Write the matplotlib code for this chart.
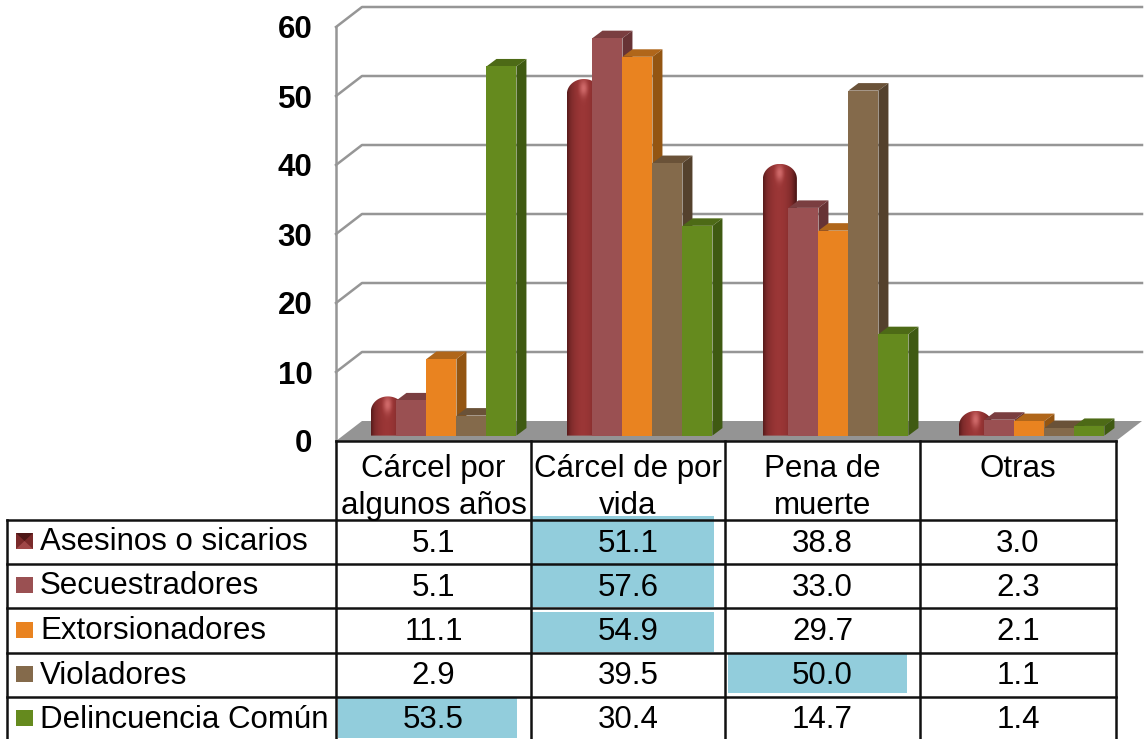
import matplotlib
matplotlib.use('Agg')
import matplotlib.pyplot as plt
import numpy as np
from matplotlib.colors import LinearSegmentedColormap
from matplotlib.patches import Polygon

plt.rcParams['font.family'] = ['Liberation Sans', 'DejaVu Sans']

categories = ['Cárcel por\nalgunos años', 'Cárcel de por\nvida', 'Pena de\nmuerte', 'Otras']
series_names = ['Asesinos o sicarios', 'Secuestradores', 'Extorsionadores', 'Violadores', 'Delincuencia Común']
asesinos = [5.1, 51.1, 38.8, 3.0]
secuestradores = [5.1, 57.6, 33.0, 2.3]
extorsionadores = [11.1, 54.9, 29.7, 2.1]
violadores = [2.9, 39.5, 50.0, 1.1]
delincuencia = [53.5, 30.4, 14.7, 1.4]
y_ticks = [0, 10, 20, 30, 40, 50, 60]

W, H = 1147, 739
PX_X = 195.0   # pixels per category
PX_Y = 6.9     # pixels per unit
WALL_DX = 26 / PX_X
WALL_DY = 20 / PX_Y
BAR_DX = 10 / PX_X
BAR_DY = 7.5 / PX_Y
BAR_LIFT = 5.4 / PX_Y
BAR_W = 30 / PX_X
GROUP_STEP = 196 / PX_X

# front, top, side
colors = [None,
          ('#9a5052', '#7a3e40', '#673335'),
          ('#e98320', '#b0661a', '#935512'),
          ('#846a4b', '#6a5238', '#54412d'),
          ('#658a1e', '#4d6a16', '#3f5a12')]
BLUE = '#92cddc'
GRID = '#969696'

fig = plt.figure(figsize=(W / 100, H / 100), dpi=100)
ax = fig.add_axes([336 / W, (H - 441) / H, 780 / W, 414 / H])
ax.set_xlim(0, 4)
ax.set_ylim(0, 60)
ax.patch.set_visible(False)
for s in ['top', 'right', 'bottom']:
    ax.spines[s].set_visible(False)
ax.spines['left'].set_color(GRID)
ax.spines['left'].set_linewidth(1.8)
ax.set_xticks([])
ax.set_yticks(y_ticks)
ax.tick_params(axis='y', length=0, pad=17)
for lab in ax.get_yticklabels():
    lab.set_fontsize(22.5)
    lab.set_fontweight('bold')

# walls and floor
for v in y_ticks[1:]:
    ax.plot([0, WALL_DX, 4 + WALL_DX], [v, v + WALL_DY, v + WALL_DY],
            color=GRID, lw=1.8, clip_on=False, zorder=1)
ax.add_patch(Polygon([(0, 0), (WALL_DX, WALL_DY), (4 + WALL_DX, WALL_DY), (4, 0)],
                     closed=True, facecolor='#949494', edgecolor='none',
                     clip_on=False, zorder=1))


def draw_cylinder(left, value, z):
    width = 34 / PX_X
    cx = left + width / 2
    top = value + BAR_LIFT + 4 / PX_Y
    dome = min(15 / PX_Y, (top - BAR_LIFT) * 0.7)
    t = np.linspace(-np.pi / 2, np.pi / 2, 60)
    px = cx + width / 2 * np.sin(t)
    py = top - dome + dome * np.cos(t)
    outline = [(cx - width / 2, BAR_LIFT)] + list(zip(px, py)) + [(cx + width / 2, BAR_LIFT)]
    gx = np.linspace(-1, 1, 60)
    ny = 200
    gy = np.linspace(BAR_LIFT, top, ny)
    xx, yy = np.meshgrid(gx, gy)
    shade = 1 - np.abs(xx + 0.05) ** 2.2
    hy = top - dome * 0.55
    spot = np.exp(-((xx + 0.02) ** 2 / 0.07 + ((yy - hy) * PX_Y / 8) ** 2))
    cmap = LinearSegmentedColormap.from_list('red3d', ['#4e1717', '#7d2a2a', '#9a3636', '#d06a6a'])
    img = ax.imshow(0.67 * shade + 0.33 * spot, cmap=cmap, vmin=0, vmax=1, aspect='auto', origin='lower',
                    extent=[cx - width / 2, cx + width / 2, BAR_LIFT, top],
                    zorder=z, interpolation='bilinear')
    clip = Polygon(outline, closed=True, transform=ax.transData)
    img.set_clip_path(clip)
    img.set_clip_on(True)


def draw_box(left, value, col, z):
    front, top, side = col
    y0 = BAR_LIFT
    y1 = value + BAR_LIFT
    r = left + BAR_W
    ax.fill([left, r, r + BAR_DX, left + BAR_DX], [y1, y1, y1 + BAR_DY, y1 + BAR_DY],
            color=top, lw=0, clip_on=False, zorder=z)
    ax.fill([r, r + BAR_DX, r + BAR_DX, r], [y0, y0 + BAR_DY, y1 + BAR_DY, y1],
            color=side, lw=0, clip_on=False, zorder=z)
    ax.bar(left, value, BAR_W, bottom=y0, align='edge', color=front, lw=0, zorder=z, clip_on=False)


groups = [asesinos, secuestradores, extorsionadores, violadores, delincuencia]
for i in range(4):
    start = i * GROUP_STEP
    draw_cylinder(start + 0.179, asesinos[i], 3)
    for j in range(1, 5):
        draw_box(start + 0.31 + (j - 1) * BAR_W, groups[j][i], colors[j], 3 + j)

ax.set_xlim(0, 4)
ax.set_ylim(0, 60)

# data table, in pixels
tb = fig.add_axes([0, 0, 1, 1])
tb.set_xlim(0, W)
tb.set_ylim(H, 0)
tb.axis('off')
tb.patch.set_visible(False)

col_x = [336, 531, 725, 920, 1116]
row_y = [520, 564, 608, 653, 697, 741]
blue_cells = [(532, 714, 516, 564), (532, 714, 565, 607), (532, 714, 612, 652),
              (728, 907, 654, 693), (338, 517, 697, 738)]
for x0, x1, y0, y1 in blue_cells:
    tb.fill([x0, x1, x1, x0], [y0, y0, y1, y1], color=BLUE, lw=0, zorder=1)

LINE = '#111111'
LW = 1.8
for x in col_x:
    tb.plot([x, x], [441, H], color=LINE, lw=LW, zorder=2)
tb.plot([336, 1116], [441, 441], color=LINE, lw=LW, zorder=2)
tb.plot([7, 7], [520, H], color=LINE, lw=LW, zorder=2)
for y in row_y[:-1]:
    tb.plot([7, 1116], [y, y], color=LINE, lw=LW, zorder=2)

FS = 22.5
for i, name in enumerate(categories):
    cx = (col_x[i] + col_x[i + 1]) / 2
    parts = name.split('\n')
    tb.text(cx, 469, parts[0], ha='center', va='center', fontsize=FS, zorder=3)
    if len(parts) > 1:
        tb.text(cx, 506, parts[1], ha='center', va='center', fontsize=FS, zorder=3)

key_colors = ['#7a2a2a', '#9a5052', '#e98320', '#846a4b', '#658a1e']
for r, name in enumerate(series_names):
    yc = (row_y[r] + row_y[r + 1]) / 2 - 1
    if r == 4:
        yc = 718
    tb.fill([16, 33, 33, 16], [yc - 8, yc - 8, yc + 8, yc + 8], color=key_colors[r], lw=0, zorder=3)
    if r == 0:
        # little pyramid shaded key
        tb.fill([16, 33, 24.5], [yc - 8, yc - 8, yc], color='#4e1717', lw=0, zorder=4)
        tb.fill([16, 33, 24.5], [yc + 8, yc + 8, yc], color='#a04848', lw=0, zorder=4)
    tb.text(40, yc + 1.5, name, ha='left', va='center', fontsize=FS, zorder=3)
    for i in range(4):
        cx = (col_x[i] + col_x[i + 1]) / 2
        tb.text(cx, yc + 2.5, '%.1f' % groups[r][i], ha='center', va='center', fontsize=FS, zorder=3)

fig.savefig('out.png', dpi=100)
